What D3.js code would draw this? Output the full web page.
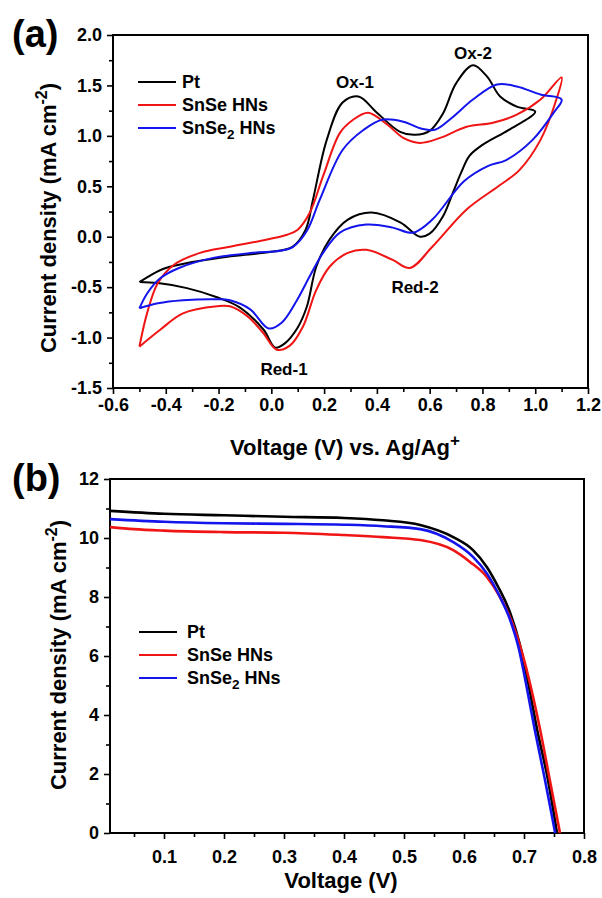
<!DOCTYPE html>
<html>
<head>
<meta charset="utf-8">
<script src="https://cdn.jsdelivr.net/npm/d3@7"></script>
<style>
  body { margin: 0; background: #fff; }
  svg text { font-family: "Liberation Sans", Arial, sans-serif; font-weight: bold; fill: #000; }
</style>
</head>
<body>
<svg id="fig" width="602" height="898"></svg>
<script>
// Two-panel figure: (a) cyclic voltammetry, (b) J-V curves.

const seriesNames  = ["Pt", "SnSe HNs", "SnSe2 HNs"];
const seriesColors = ["#000000", "#f01414", "#1414ec"];

// (a) CV loops as [voltage, current]; anodic branch then cathodic back
const cvPt = [
  [-0.5,-0.45],[-0.45,-0.37],[-0.4,-0.31],[-0.3,-0.25],[-0.2,-0.21],[-0.1,-0.18],[0.0,-0.15],
  [0.08,-0.1],[0.13,0.07],[0.158,0.37],[0.21,0.96],[0.27,1.33],[0.33,1.39],[0.40,1.23],
  [0.488,1.04],[0.545,1.01],[0.6,1.05],[0.65,1.22],[0.7,1.52],[0.764,1.70],[0.817,1.59],
  [0.867,1.39],[0.93,1.29],[1.0,1.24],
  [0.9,1.06],[0.8,0.91],[0.75,0.8],[0.72,0.64],[0.69,0.45],[0.65,0.2],[0.6,0.03],[0.563,0.0],
  [0.49,0.14],[0.38,0.24],[0.29,0.17],[0.22,-0.03],[0.17,-0.3],[0.135,-0.69],[0.1,-0.9],
  [0.05,-1.06],[0.015,-1.1],[-0.03,-0.92],[-0.12,-0.7],[-0.206,-0.6],[-0.32,-0.51],
  [-0.43,-0.46],[-0.5,-0.45]
];
const cvSnSe = [
  [-0.5,-1.09],[-0.47,-0.75],[-0.43,-0.46],[-0.37,-0.28],[-0.27,-0.16],[-0.157,-0.1],
  [-0.02,-0.03],[0.06,0.02],[0.1,0.07],[0.146,0.24],[0.196,0.6],[0.26,1.03],[0.31,1.16],
  [0.367,1.23],[0.44,1.11],[0.50,0.98],[0.563,0.93],[0.64,0.98],[0.74,1.09],[0.84,1.13],
  [0.93,1.21],[1.02,1.36],[1.10,1.58],
  [1.08,1.36],[1.02,0.96],[0.94,0.66],[0.86,0.5],[0.74,0.27],[0.61,-0.1],[0.525,-0.31],
  [0.46,-0.23],[0.36,-0.13],[0.29,-0.16],[0.22,-0.3],[0.17,-0.53],[0.12,-0.89],[0.07,-1.08],
  [0.02,-1.12],[-0.032,-0.95],[-0.09,-0.79],[-0.157,-0.69],[-0.206,-0.69],[-0.335,-0.76],
  [-0.42,-0.92],[-0.5,-1.09]
];
const cvSnSe2 = [
  [-0.5,-0.71],[-0.47,-0.56],[-0.42,-0.41],[-0.35,-0.31],[-0.22,-0.21],[-0.07,-0.16],
  [0.033,-0.14],[0.082,-0.1],[0.135,0.06],[0.184,0.37],[0.27,0.86],[0.35,1.06],[0.42,1.16],
  [0.50,1.14],[0.57,1.07],[0.62,1.06],[0.68,1.17],[0.764,1.36],[0.855,1.51],[0.93,1.49],
  [1.02,1.41],[1.10,1.36],
  [1.07,1.23],[0.99,0.96],[0.89,0.76],[0.82,0.70],[0.73,0.55],[0.61,0.17],[0.537,0.04],
  [0.46,0.09],[0.36,0.12],[0.26,0.04],[0.196,-0.16],[0.146,-0.39],[0.097,-0.63],[0.04,-0.85],
  [-0.01,-0.91],[-0.08,-0.72],[-0.157,-0.63],[-0.206,-0.62],[-0.335,-0.63],[-0.43,-0.66],
  [-0.5,-0.71]
];

// (b) J-V curves
const jvPtV      = [0.01,0.1,0.2,0.3,0.4,0.465,0.527,0.582,0.615,0.638,0.657,0.677,0.693,0.706,0.722,0.74,0.755];
const jvPtJ      = [10.92,10.82,10.77,10.72,10.68,10.6,10.44,10.03,9.59,9.02,8.34,7.46,6.4,5.19,3.49,1.8,0];
const jvSnSeV    = [0.01,0.05,0.1,0.2,0.3,0.4,0.465,0.527,0.582,0.61,0.638,0.66,0.68,0.697,0.712,0.727,0.743,0.76];
const jvSnSeJ    = [10.37,10.3,10.25,10.2,10.18,10.1,10.03,9.93,9.59,9.19,8.68,8.0,7.15,6.1,4.9,3.49,1.8,0];
const jvSnSe2V   = [0.01,0.1,0.2,0.3,0.4,0.465,0.527,0.582,0.615,0.638,0.66,0.677,0.692,0.703,0.718,0.735,0.752];
const jvSnSe2J   = [10.64,10.55,10.5,10.48,10.45,10.4,10.3,9.86,9.36,8.8,8.0,7.22,6.2,5.1,3.49,1.8,0];

// ticks
const cvXTicks = [-0.6,-0.4,-0.2,0.0,0.2,0.4,0.6,0.8,1.0,1.2];
const cvYTicks = [-1.5,-1.0,-0.5,0.0,0.5,1.0,1.5,2.0];
const jvXTicks = [0.1,0.2,0.3,0.4,0.5,0.6,0.7,0.8];
const jvYTicks = [0,2,4,6,8,10,12];

const svg = d3.select("#fig");
// plain hyphen for negative tick labels, as in the original
const loc = d3.formatLocale({ decimal: ".", thousands: ",", grouping: [3], currency: ["", ""], minus: "-" });

function subLabel(sel, name) {
  // "SnSe2 HNs" -> subscript 2
  if (name === "SnSe2 HNs") {
    sel.append("tspan").text("SnSe");
    sel.append("tspan").attr("dy", 5).attr("font-size", "0.75em").text("2");
    sel.append("tspan").attr("dy", -5).text(" HNs");
  } else {
    sel.text(name);
  }
}

function frame(g, x, y, minorX, minorY, fmtX, fmtY, opts) {
  const [x0, x1] = x.range(), [y0, y1] = y.range();
  g.append("g").attr("transform", `translate(0,${y0})`)
    .call(d3.axisBottom(x).tickValues(opts.xTicks).tickSize(6).tickPadding(opts.xPad).tickFormat(fmtX));
  g.append("g").attr("transform", `translate(0,${y0})`)
    .call(d3.axisBottom(x).tickValues(minorX).tickSize(4).tickFormat(""));
  g.append("g").attr("transform", `translate(${x0},0)`)
    .call(d3.axisLeft(y).tickValues(opts.yTicks).tickSize(6).tickPadding(5).tickFormat(fmtY));
  g.append("g").attr("transform", `translate(${x0},0)`)
    .call(d3.axisLeft(y).tickValues(minorY).tickSize(4).tickFormat(""));
  g.selectAll(".domain").remove();
  g.selectAll(".tick line").attr("stroke", "#000").attr("stroke-width", 1.6);
  g.selectAll(".tick text").attr("font-size", 18).attr("fill", "#000");
  g.append("rect")
    .attr("x", x0).attr("y", y1).attr("width", x1 - x0).attr("height", y0 - y1)
    .attr("fill", "none").attr("stroke", "#000").attr("stroke-width", 2);
}

function legend(g, x0, x1, tx, ys) {
  seriesNames.forEach((name, i) => {
    g.append("line").attr("x1", x0).attr("x2", x1).attr("y1", ys[i]).attr("y2", ys[i])
      .attr("stroke", seriesColors[i]).attr("stroke-width", 2.2);
    g.append("text").attr("x", tx).attr("y", ys[i] + 6).attr("font-size", 18)
      .call(t => subLabel(t, name));
  });
}

// ---------- panel (a) ----------
const xA = d3.scaleLinear().domain([-0.6, 1.2]).range([113, 588]);
const yA = d3.scaleLinear().domain([-1.5, 2.0]).range([388, 35]);
const gA = svg.append("g");

frame(gA, xA, yA,
  d3.range(-0.5, 1.2, 0.2), d3.range(-1.25, 2.0, 0.5),
  loc.format(".1f"), loc.format(".1f"),
  { xTicks: cvXTicks, yTicks: cvYTicks, xPad: 4 });

const lineA = d3.line().x(d => xA(d[0])).y(d => yA(d[1])).curve(d3.curveCatmullRom.alpha(0.5));
[cvPt, cvSnSe, cvSnSe2].forEach((pts, i) => {
  gA.append("path").datum(pts).attr("d", lineA)
    .attr("fill", "none").attr("stroke", seriesColors[i]).attr("stroke-width", 2);
});

legend(gA, 138, 176, 182, [82, 105, 128]);

const notes = [["Ox-1", 355, 88], ["Ox-2", 473, 59], ["Red-1", 284, 375], ["Red-2", 415, 293]];
notes.forEach(([t, x, y]) => {
  gA.append("text").attr("x", x).attr("y", y).attr("text-anchor", "middle").attr("font-size", 17).text(t);
});

gA.append("text").attr("x", 12).attr("y", 47).attr("font-size", 38).text("(a)");

const xtA = gA.append("text").attr("x", 345).attr("y", 455).attr("text-anchor", "middle").attr("font-size", 22);
xtA.append("tspan").text("Voltage (V) vs. Ag/Ag");
xtA.append("tspan").attr("dy", -9).attr("font-size", 17).text("+");

const ytA = gA.append("text").attr("transform", "translate(56,218) rotate(-90)")
  .attr("text-anchor", "middle").attr("font-size", 22);
ytA.append("tspan").text("Current density (mA cm");
ytA.append("tspan").attr("dy", -9).attr("font-size", 16).text("-2");
ytA.append("tspan").attr("dy", 9).text(")");

// ---------- panel (b) ----------
const xB = d3.scaleLinear().domain([0.01, 0.8]).range([110, 584]);
const yB = d3.scaleLinear().domain([0, 12]).range([833, 479]);
const gB = svg.append("g");

frame(gB, xB, yB,
  d3.range(0.05, 0.8, 0.1), d3.range(1, 12, 2),
  loc.format(".1f"), loc.format("d"),
  { xTicks: jvXTicks, yTicks: jvYTicks, xPad: 11 });

const lineB = d3.line().x(d => xB(d[0])).y(d => yB(d[1])).curve(d3.curveMonotoneX);
[[jvPtV, jvPtJ], [jvSnSeV, jvSnSeJ], [jvSnSe2V, jvSnSe2J]].forEach(([v, j], i) => {
  gB.append("path").datum(d3.zip(v, j)).attr("d", lineB)
    .attr("fill", "none").attr("stroke", seriesColors[i]).attr("stroke-width", 2.6);
});

legend(gB, 139, 177, 187, [632, 655, 678]);

gB.append("text").attr("x", 12).attr("y", 491).attr("font-size", 38).text("(b)");

gB.append("text").attr("x", 341).attr("y", 888).attr("text-anchor", "middle").attr("font-size", 22)
  .text("Voltage (V)");

const ytB = gB.append("text").attr("transform", "translate(66,655) rotate(-90)")
  .attr("text-anchor", "middle").attr("font-size", 22);
ytB.append("tspan").text("Current density (mA cm");
ytB.append("tspan").attr("dy", -9).attr("font-size", 16).text("-2");
ytB.append("tspan").attr("dy", 9).text(")");
</script>
</body>
</html>
